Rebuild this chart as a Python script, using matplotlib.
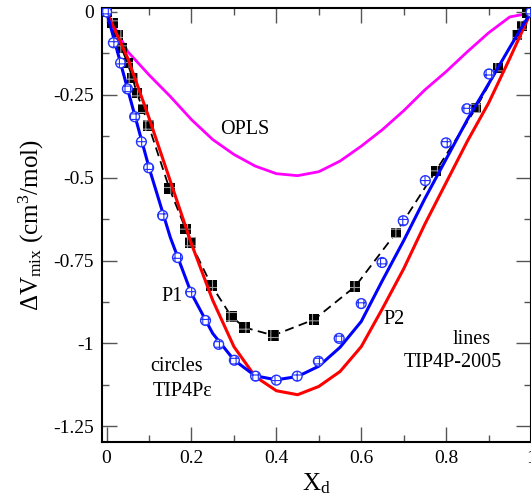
import numpy as np
import matplotlib
matplotlib.use("Agg")
import matplotlib.pyplot as plt
from matplotlib.ticker import MultipleLocator

plt.rcParams['font.family'] = ['Liberation Serif', 'DejaVu Serif']
plt.rcParams['mathtext.fontset'] = 'custom'
plt.rcParams['mathtext.rm'] = 'Liberation Serif'
plt.rcParams['mathtext.it'] = 'Liberation Serif:italic'
plt.rcParams['hatch.linewidth'] = 0.8

# OPLS (magenta line)
x_opls = [0, 0.05, 0.1, 0.15, 0.2, 0.25, 0.3, 0.35, 0.4, 0.45, 0.5,
          0.55, 0.6, 0.65, 0.7, 0.75, 0.8, 0.85, 0.9, 0.95, 1.0]
y_opls = [0, -0.12, -0.19, -0.255, -0.325, -0.385, -0.43, -0.465, -0.488, -0.494, -0.482,
          -0.45, -0.405, -0.355, -0.298, -0.235, -0.18, -0.12, -0.063, -0.015, -0.003]

# TIP4P-2005 lines
x_line = [0, 0.05, 0.1, 0.15, 0.2, 0.25, 0.3, 0.35, 0.4, 0.45, 0.5,
          0.55, 0.6, 0.65, 0.7, 0.75, 0.8, 0.85, 0.9, 0.95, 1.0]
y_p1_line = [0, -0.235, -0.47, -0.68, -0.85, -0.97, -1.05, -1.098, -1.11, -1.10, -1.069,
             -1.012, -0.934, -0.81, -0.69, -0.563, -0.444, -0.325, -0.217, -0.107, 0]
y_p2_line = [0, -0.14, -0.32, -0.51, -0.70, -0.87, -1.01, -1.10, -1.143, -1.155, -1.13,
             -1.085, -1.01, -0.895, -0.775, -0.64, -0.515, -0.39, -0.275, -0.14, 0]

# TIP4Pe circles (P1)
x_circ = [0, 0.016, 0.033, 0.049, 0.066, 0.082, 0.099, 0.132, 0.167, 0.198, 0.233,
          0.264, 0.301, 0.351, 0.4, 0.449, 0.499, 0.548, 0.6, 0.649, 0.699, 0.751,
          0.8, 0.849, 0.901, 1.0]
y_circ = [0, -0.093, -0.154, -0.232, -0.316, -0.392, -0.470, -0.614, -0.741, -0.846, -0.931,
          -1.003, -1.051, -1.099, -1.111, -1.099, -1.054, -0.985, -0.880, -0.756, -0.630, -0.509,
          -0.395, -0.292, -0.187, 0]

# TIP4Pe squares (P2, dashed)
x_sq = [0, 0.014, 0.026, 0.035, 0.049, 0.061, 0.071, 0.085, 0.099, 0.148, 0.186, 0.198,
        0.247, 0.294, 0.325, 0.393, 0.489, 0.586, 0.682, 0.776, 0.871, 0.922, 0.967,
        0.979, 0.99]
y_sq = [0, -0.033, -0.069, -0.108, -0.154, -0.199, -0.244, -0.292, -0.343, -0.533, -0.654, -0.696,
        -0.825, -0.919, -0.952, -0.976, -0.928, -0.828, -0.666, -0.479, -0.289, -0.169, -0.069,
        -0.042, -0.003]

fig = plt.figure(figsize=(5.31, 4.99), dpi=100)
ax = fig.add_axes([0.192, 0.114, 0.808, 0.870])

ax.plot(x_opls, y_opls, color='#ff00ff', lw=2.0, zorder=2)
ax.plot(x_sq, y_sq, color='black', lw=1.3, ls=(0, (5, 3)), zorder=3)
ax.scatter(x_sq, y_sq, marker='s', s=55, facecolors='black', edgecolors='#9a9a9a',
           hatch='++', linewidths=0, zorder=4)
ax.plot(x_line, y_p2_line, color='#ff0000', lw=2.2, zorder=5)
ax.plot(x_line, y_p1_line, color='#0000ff', lw=2.2, zorder=6)
ax.scatter(x_circ, y_circ, marker='o', s=50, facecolors='white', edgecolors='#2233ff',
           hatch='+++', linewidths=1.0, zorder=7)

fs = 14.5
ax.text(0.325, -0.355, 'OPLS', fontsize=fs, ha='center', va='center')
ax.text(0.155, -0.86, 'P1', fontsize=fs, ha='center', va='center')
ax.text(0.678, -0.928, 'P2', fontsize=fs, ha='center', va='center')
ax.text(0.165, -1.069, 'circles', fontsize=fs, ha='center', va='center')
ax.text(0.18, -1.145, 'TIP4Pε', fontsize=fs, ha='center', va='center')
ax.text(0.859, -0.988, 'lines', fontsize=fs, ha='center', va='center')
ax.text(0.815, -1.057, 'TIP4P-2005', fontsize=fs, ha='center', va='center')

ax.set_xlim(-0.011, 1.0)
ax.set_ylim(-1.298, 0.012)
ax.xaxis.set_minor_locator(MultipleLocator(0.1))
ax.yaxis.set_minor_locator(MultipleLocator(0.125))
ax.set_xticks([0, 0.2, 0.4, 0.6, 0.8, 1.0])
ax.set_xticklabels(['0', '0.2', '0.4', '0.6', '0.8', '1'])
ax.set_yticks([0, -0.25, -0.5, -0.75, -1.0, -1.25])
ax.set_yticklabels(['0', '-0.25', '-0.5', '-0.75', '-1', '-1.25'])
ax.tick_params(which='both', direction='in', top=True, right=True, labelsize=14,
               color='#555555', width=1.0)
ax.tick_params(which='major', length=11, pad=6)
ax.tick_params(which='minor', length=5)
for sp in ax.spines.values():
    sp.set_linewidth(1.5)

ax.set_xlabel(r'X$_{\rm d}$', fontsize=18, labelpad=3)
ax.set_ylabel(r'ΔV$_{\rm mix}$ (cm$^{3}$/mol)', fontsize=18, labelpad=5)

fig.savefig('out.png', dpi=100)
